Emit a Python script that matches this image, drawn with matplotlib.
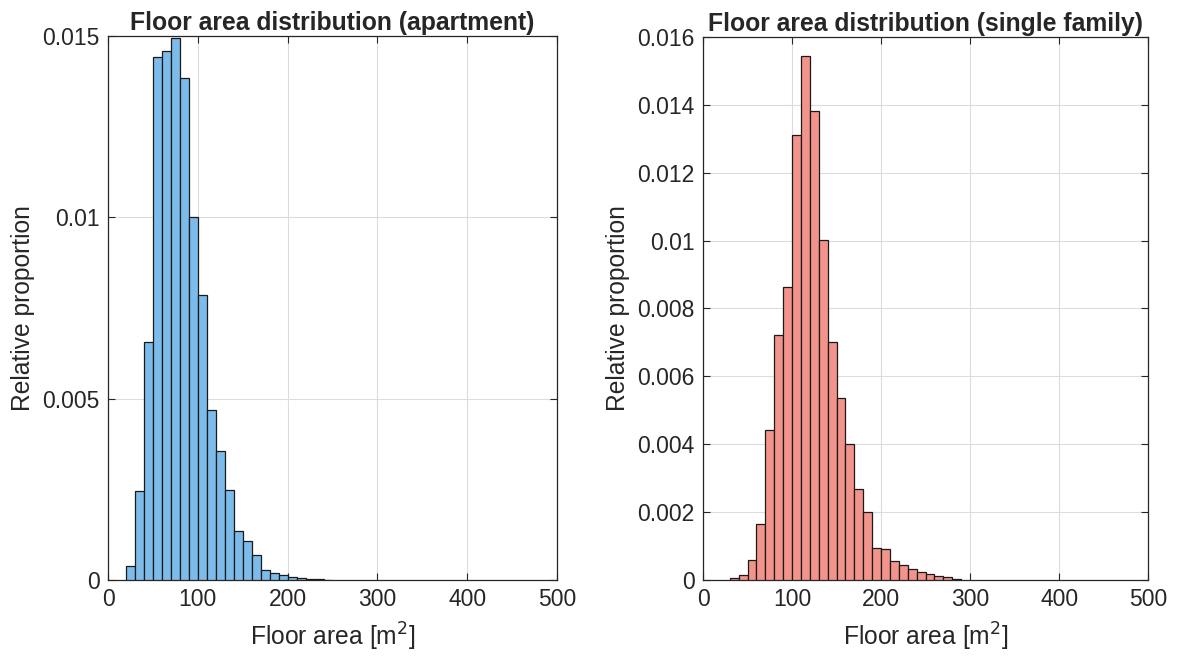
import numpy as np
import matplotlib

matplotlib.use("Agg")
import matplotlib.pyplot as plt
from matplotlib.ticker import FuncFormatter

INK = "#262626"
GRID = "#dcdcdc"
BLUE = "#7dbcea"
RED = "#f2948b"

plt.rcParams.update({
    "font.family": ["Liberation Sans", "DejaVu Sans"],
    "font.size": 16,
    "axes.edgecolor": INK,
    "text.color": INK,
    "axes.labelcolor": INK,
    "xtick.color": INK,
    "ytick.color": INK,
})

# apartment floor areas: 10 m2 bins from 20 to 250
apt_edges = np.arange(20, 251, 10)
apt_props = [0.00039, 0.00246, 0.00657, 0.01443, 0.01458, 0.01494, 0.01384,
             0.01002, 0.00787, 0.00470, 0.00357, 0.00249, 0.00135, 0.00108,
             0.00069, 0.00028, 0.00020, 0.00013, 0.00008, 0.00005, 0.00003,
             0.00002, 0.00001]

# single family floor areas: 10 m2 bins from 30 to 290
sf_edges = np.arange(30, 291, 10)
sf_props = [0.00005, 0.00016, 0.00059, 0.00166, 0.00442, 0.00722, 0.00863,
            0.01312, 0.01543, 0.01381, 0.01002, 0.00700, 0.00536, 0.00400,
            0.00269, 0.00199, 0.00094, 0.00092, 0.00055, 0.00043, 0.00031,
            0.00025, 0.00018, 0.00011, 0.00008, 0.00004]

x_ticks = [0, 100, 200, 300, 400, 500]
apt_yticks = [0, 0.005, 0.01, 0.015]
sf_yticks = [0, 0.002, 0.004, 0.006, 0.008, 0.01, 0.012, 0.014, 0.016]

fig = plt.figure(figsize=(11.78, 6.59), dpi=100)
ax1 = fig.add_axes([0.0917, 0.1199, 0.3811, 0.8255])
ax2 = fig.add_axes([0.5968, 0.1199, 0.3778, 0.8240])


def hist_panel(ax, edges, props, color, yticks, title):
    ax.bar(edges[:-1], props, width=np.diff(edges), align="edge",
           color=color, edgecolor="#1a1a1a", linewidth=0.9, zorder=3)
    ax.set_xlim(0, 500)
    ax.set_ylim(yticks[0], yticks[-1])
    ax.set_xticks(x_ticks)
    ax.set_yticks(yticks)
    ax.yaxis.set_major_formatter(FuncFormatter(lambda v, p: "%g" % round(v, 4)))
    ax.grid(True, color=GRID, lw=0.8, zorder=0)
    ax.tick_params(direction="in", length=5, width=0.8, labelsize=16.5, pad=6,
                   top=True, right=True, labeltop=False, labelright=False)
    for s in ax.spines.values():
        s.set_linewidth(0.9)
    ax.set_title(title, fontsize=17.8, fontweight="bold", pad=4)
    ax.set_xlabel("Floor area [m$^2$]", fontsize=17.7, labelpad=7)
    ax.set_ylabel("Relative proportion", fontsize=17.7, labelpad=5)


hist_panel(ax1, apt_edges, apt_props, BLUE, apt_yticks,
           "Floor area distribution (apartment)")
hist_panel(ax2, sf_edges, sf_props, RED, sf_yticks,
           "Floor area distribution (single family)")

fig.savefig("out.png", dpi=100, facecolor="white")
